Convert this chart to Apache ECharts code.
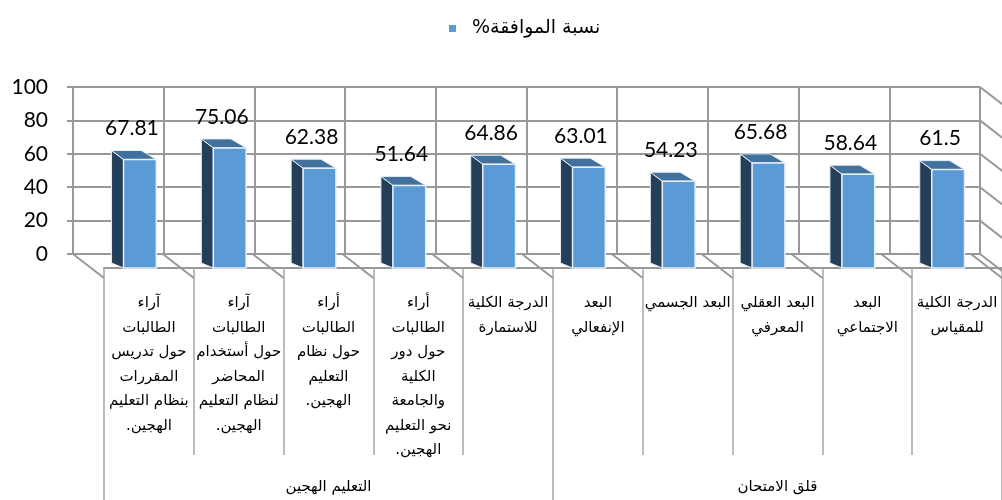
<!DOCTYPE html>
<html>
<head>
<meta charset="utf-8">
<script src="https://cdn.jsdelivr.net/npm/echarts@6/dist/echarts.min.js"></script>
<style>
  html, body { margin: 0; padding: 0; background: #fff; }
  #chart { width: 1002px; height: 500px; direction: rtl; }
</style>
</head>
<body>
<div id="chart"></div>
<script>
// categories, left to right as in the picture
const categories = [
  'آراء\nالطالبات\nحول تدريس\nالمقررات\nبنظام التعليم\nالهجين.',
  'آراء\nالطالبات\nحول أستخدام\nالمحاضر\nلنظام التعليم\nالهجين.',
  'أراء\nالطالبات\nحول نظام\nالتعليم\nالهجين.',
  'أراء\nالطالبات\nحول دور\nالكلية\nوالجامعة\nنحو التعليم\nالهجين.',
  'الدرجة الكلية\nللاستمارة',
  'البعد\nالإنفعالي',
  'البعد الجسمي',
  'البعد العقلي\nالمعرفي',
  'البعد\nالاجتماعي',
  'الدرجة الكلية\nللمقياس'
];
const groups = ['التعليم الهجين', 'قلق الامتحان'];
const values = [67.81, 75.06, 62.38, 51.64, 64.86, 63.01, 54.23, 65.68, 58.64, 61.5];
const yTicks = [0, 20, 40, 60, 80, 100];
const seriesName = 'نسبة الموافقة%';

const gridColor = '#989898';
const frontColor = '#5b9bd5';
const sideColor = '#253f59';
const topColor = '#41719c';
const arabicFont = "'DejaVu Sans', 'Liberation Sans', sans-serif";
const numFont = "Lato, 'Open Sans', sans-serif";

const chart = echarts.init(document.getElementById('chart'), null, { renderer: 'canvas' });

function renderBar(params, api) {
  const i = api.value(0);
  const v = api.value(1);
  const base = api.coord([i, 0]);
  const top = api.coord([i, v]);
  const slot = api.size([1, 0])[0];
  const w = slot * 0.365;
  const cx = base[0] - slot * 0.1;
  const x0 = cx - w / 2;
  const x1 = cx + w / 2;
  const dx = 12, dy = 9;
  const floorLine = (bx) => ({
    type: 'line',
    shape: { x1: bx, y1: base[1] + 10, x2: bx - 31, y2: base[1] - 14 },
    style: { stroke: gridColor, lineWidth: 2 }
  });
  const children = [floorLine(base[0] - slot / 2)];
  if (i === categories.length - 1) children.push(floorLine(base[0] + slot / 2));
  children.push(
    {
      type: 'polygon',
      shape: { points: [[x0 - dx, top[1] - dy], [x0, top[1]], [x0, base[1]], [x0 - dx, base[1] - 5]] },
      style: { fill: sideColor, stroke: '#e6eef8', lineWidth: 1 }
    },
    {
      type: 'polygon',
      shape: { points: [[x0 - dx, top[1] - dy], [x1 - dx - 3, top[1] - dy], [x1, top[1]], [x0, top[1]]] },
      style: { fill: topColor, stroke: '#e6eef8', lineWidth: 1 }
    },
    {
      type: 'rect',
      shape: { x: x0, y: top[1], width: w, height: base[1] - top[1] },
      style: { fill: frontColor, stroke: '#e6eef8', lineWidth: 1.5 }
    },
    {
      type: 'text',
      style: {
        x: cx - 8, y: top[1] - 31,
        text: String(v),
        align: 'center', verticalAlign: 'middle',
        font: '21px ' + numFont,
        fill: '#000'
      }
    }
  );
  return { type: 'group', children };
}

function renderWall(params, api) {
  const p = api.coord([api.value(0), api.value(1)]);
  const x = p[0] + api.size([1, 0])[0] / 2;
  return {
    type: 'line',
    shape: { x1: x, y1: p[1], x2: x + 40, y2: p[1] + 31 },
    style: { stroke: gridColor, lineWidth: 2 }
  };
}

const option = {
  animation: false,
  legend: {
    data: [{ name: seriesName, icon: 'rect', itemStyle: { color: frontColor } }],
    left: 444,
    top: 14,
    itemWidth: 7,
    itemHeight: 7,
    textStyle: { fontSize: 19, fontFamily: arabicFont, color: '#000', padding: [0, 0, 0, 11] }
  },
  grid: [
    { left: 73, right: 22, top: 87, bottom: 246 },
    { left: 104, right: -9, top: 108, bottom: 232 }
  ],
  xAxis: [
    {
      gridIndex: 0, type: 'category', data: categories,
      axisLine: { show: false }, axisTick: { show: false }, axisLabel: { show: false },
      splitLine: { show: true, interval: 0, lineStyle: { color: gridColor, width: 2 } }
    },
    {
      gridIndex: 1, type: 'category', data: categories, position: 'bottom', offset: 10,
      axisLine: { show: true, lineStyle: { color: gridColor, width: 2 } },
      axisTick: { show: true, interval: 0, length: 187, lineStyle: { color: '#a6a6a6', width: 1.5 } },
      axisLabel: {
        interval: 0, margin: 13, fontSize: 15, lineHeight: 24.5,
        fontFamily: arabicFont, color: '#000'
      },
      splitLine: { show: false }
    },
    {
      gridIndex: 1, type: 'category', data: groups, position: 'bottom', offset: 10,
      axisLine: { show: false },
      axisTick: { show: true, interval: 0, length: 240, lineStyle: { color: '#a6a6a6', width: 1.5 } },
      axisLabel: { interval: 0, margin: 202, fontSize: 15, fontFamily: arabicFont, color: '#000' },
      splitLine: { show: false }
    }
  ],
  yAxis: [
    {
      gridIndex: 0, type: 'value', min: 0, max: 100, interval: 20,
      axisLine: { show: true, lineStyle: { color: gridColor, width: 2 } },
      axisTick: { show: true, length: 6, lineStyle: { color: gridColor, width: 2 } },
      axisLabel: { margin: 25, fontSize: 21, fontFamily: numFont, color: '#000' },
      splitLine: { show: true, lineStyle: { color: gridColor, width: 2 } }
    },
    { gridIndex: 1, type: 'value', min: 0, max: 100, show: false }
  ],
  series: [
    {
      name: 'wall',
      type: 'custom',
      xAxisIndex: 0, yAxisIndex: 0,
      data: yTicks.map(v => [categories.length - 1, v]),
      renderItem: renderWall,
      silent: true,
      clip: false
    },
    {
      name: seriesName,
      type: 'custom',
      xAxisIndex: 1, yAxisIndex: 1,
      itemStyle: { color: frontColor },
      data: values.map((v, i) => [i, v]),
      renderItem: renderBar,
      clip: false
    }
  ]
};

chart.setOption(option);
</script>
</body>
</html>
